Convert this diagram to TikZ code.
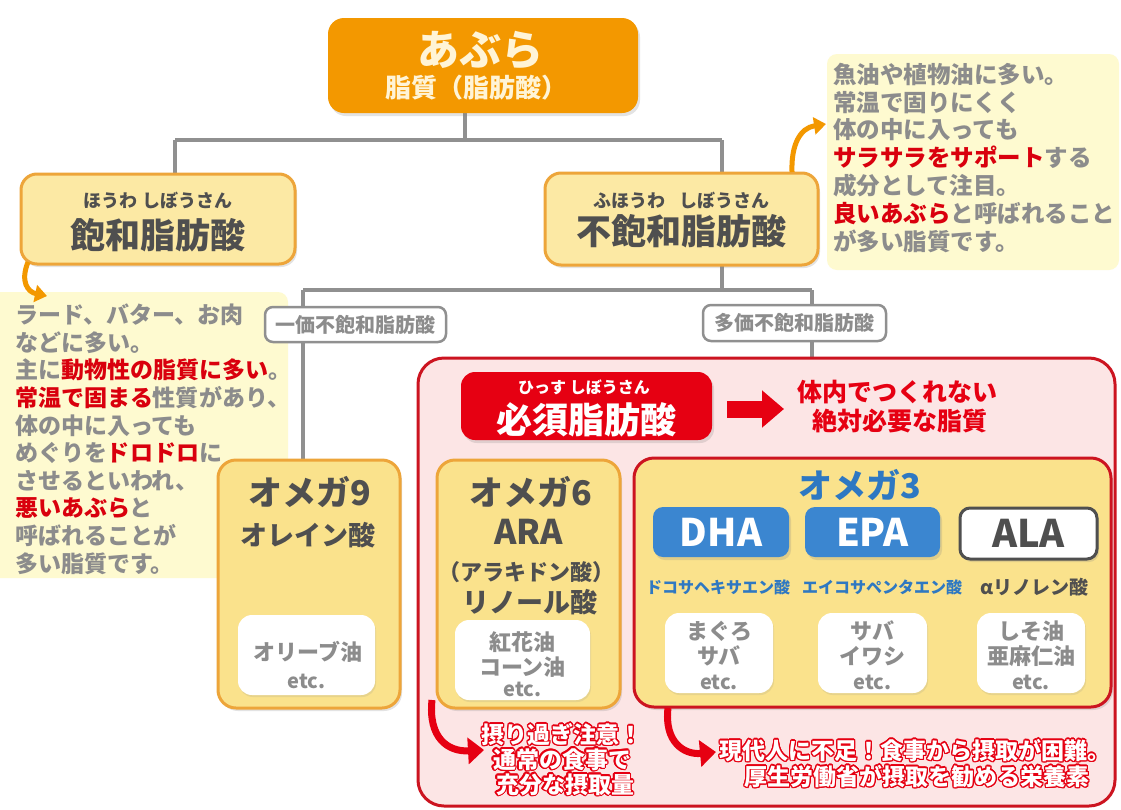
\documentclass[tikz,border=0pt]{standalone}
\usepackage{fontspec}
\setmainfont{Noto Sans CJK JP}
\usepackage[copies]{contour}
\usetikzlibrary{arrows.meta,shadows,backgrounds}
\definecolor{cOrange}{HTML}{F39800}
\definecolor{cOBorder}{HTML}{EDA53A}
\definecolor{cYFill}{HTML}{FCE9A4}
\definecolor{cOmFill}{HTML}{FAE28C}
\definecolor{cNote}{HTML}{FEFAD0}
\definecolor{cGray}{HTML}{8C8C8C}
\definecolor{cDark}{HTML}{4F4F4F}
\definecolor{cLine}{HTML}{909090}
\definecolor{cRed}{HTML}{E60012}
\definecolor{cRedB}{HTML}{CC1420}
\definecolor{cPink}{HTML}{FCE5E5}
\definecolor{cBlue}{HTML}{3B86D0}
\definecolor{cBlueT}{HTML}{2E78C2}
\definecolor{cHi}{HTML}{D9000D}
\definecolor{cCream}{HTML}{FFF4D6}
\newcommand\myfs[1]{\fontsize{#1}{#1}\selectfont}
\newcommand\redtxt[1]{\textcolor{cHi}{#1}}
\contourlength{1.3pt}
\begin{document}
\begin{tikzpicture}[x=1pt,y=-1pt,
  every node/.style={inner sep=0pt,outer sep=0pt},
  conn/.style={draw=cLine,line width=4pt},
  shad/.style={drop shadow={opacity=0.22,shadow xshift=2pt,shadow yshift=-3pt}},
  topbox/.style={fill=cOrange,rounded corners=16pt,shad},
  ybox/.style={draw=cOBorder,line width=3pt,fill=cYFill,rounded corners=16pt,shad},
  ombox/.style={draw=cOBorder,line width=3pt,fill=cOmFill,rounded corners=18pt,shad},
  notebox/.style={fill=cNote,rounded corners=10pt},
  labelbox/.style={draw=cLine,line width=2.5pt,fill=white,rounded corners=8pt},
  whitebox/.style={fill=white,rounded corners=14pt,drop shadow={opacity=0.15,shadow xshift=1pt,shadow yshift=-2pt}},
  bluebox/.style={fill=cBlue,rounded corners=10pt,shad},
  darkt/.style={text=cDark,font=\bfseries\myfs{#1}},
  grayt/.style={text=cGray,font=\bfseries\myfs{#1}},
  olt/.style={text=white,font=\bfseries\myfs{23}},
  oarrow/.style={draw=cOrange,line width=5pt,-{Triangle[length=12pt,width=17pt]}},
  rarrow/.style={draw=cRed,line width=7pt,-{Triangle[length=16pt,width=26pt]}},
]
\useasboundingbox (0,0) rectangle (1121,809);

% notes
\node[notebox,minimum width=300pt,minimum height=286pt] (noteL) at (138,435) {};
\node[notebox,minimum width=292pt,minimum height=216pt] (noteR) at (973,162) {};
\node[grayt=23,anchor=north west,align=left,font=\bfseries\fontsize{23}{27.6}\selectfont] (nLt) at (15,304)
 {ラード、バター、お肉\\
  などに多い。\\
  主に\redtxt{動物性の脂質に多い}。\\
  \redtxt{常温で固まる}性質があり、\\
  体の中に入っても\\
  めぐりを\redtxt{ドロドロ}に\\
  させるといわれ、\\
  \redtxt{悪いあぶら}と\\
  呼ばれることが\\
  多い脂質です。};
\node[grayt=23,anchor=north west,align=left,font=\bfseries\fontsize{23.5}{27.8}\selectfont] (nRt) at (833,63)
 {魚油や植物油に多い。\\
  常温で固りにくく\\
  体の中に入っても\\
  \redtxt{サラサラをサポート}する\\
  成分として注目。\\
  \redtxt{良いあぶら}と呼ばれること\\
  が多い脂質です。};

% top box
\node[topbox,minimum width=310pt,minimum height=95pt] (top) at (483,65.5) {};
\node[text=cCream,font=\bfseries\myfs{42}] (tA) at (480,50) {あぶら};
\node[text=cCream,font=\bfseries\myfs{26}] (tB) at (476,88) {脂質（脂肪酸）};

% level 1 boxes
\node[ybox,minimum width=274pt,minimum height=90pt] (hw) at (158,219) {};
\node[darkt=18] (hwA) at (158,200) {ほうわ しぼうさん};
\node[darkt=35] (hwB) at (158,235) {飽和脂肪酸};
\node[ybox,minimum width=273pt,minimum height=92pt] (fhw) at (681.5,219) {};
\node[darkt=18] (fA) at (681.5,200) {ふほうわ\hspace{14pt}しぼうさん};
\node[darkt=35] (fB) at (681.5,231) {不飽和脂肪酸};

% big red area
\node[draw=cRedB,line width=3pt,fill=cPink,rounded corners=26pt,minimum width=697pt,minimum height=448pt] (big) at (766.5,582) {};

% connectors on background
\begin{scope}[on background layer]
\fill[white] (0,0) rectangle (1121,809);
\coordinate (j0) at (465,140);
\coordinate (jL) at (175,140);
\coordinate (jR) at (722,140);
\draw[conn] (top.south -| j0) -- (j0);
\draw[conn] (jL) -- (jR);
\draw[conn] (jL) -- (hw.north -| jL);
\draw[conn] (jR) -- (fhw.north -| jR);
\coordinate (k0) at (722,290);
\coordinate (kL) at (303,290);
\coordinate (kR) at (812,290);
\draw[conn] (fhw.south -| k0) -- (k0);
\draw[conn] (kL) -- (kR);
\draw[conn] (kL) -- (303,470);
\draw[conn] (kR) -- (big.north -| kR);
\end{scope}

% labels
\node[labelbox,minimum width=181pt,minimum height=35pt] (ikka) at (355.5,324.5) {};
\node[grayt=20] (ikkaT) at (355.5,324.5) {一価不飽和脂肪酸};
\node[labelbox,minimum width=183pt,minimum height=36pt] (taka) at (794.5,323) {};
\node[grayt=20] (takaT) at (794.5,323) {多価不飽和脂肪酸};

% hissu
\node[fill=cRed,rounded corners=14pt,minimum width=251pt,minimum height=68pt,shad] (hissu) at (586.5,406) {};
\node[text=white,font=\bfseries\myfs{16}] (hsA) at (584,387) {ひっす しぼうさん};
\node[text=white,font=\bfseries\myfs{36}] (hsB) at (586.5,420) {必須脂肪酸};
\coordinate (ra1) at (727,409);
\coordinate (ra2) at (784,409);
\draw[cRed,line width=17pt,-{Triangle[length=22pt,width=36pt]}] (ra1) -- (ra2);
\node[text=cRed,font=\bfseries\myfs{25}] (tx1) at (897,392) {体内でつくれない};
\node[text=cRed,font=\bfseries\myfs{25}] (tx2) at (900,421) {絶対必要な脂質};

% omega 9
\node[ombox,minimum width=182pt,minimum height=248pt] (om9) at (309,584) {};
\node[darkt=34] (o9A) at (310,492) {オメガ9};
\node[darkt=27] (o9B) at (308,535) {オレイン酸};
\node[whitebox,minimum width=137pt,minimum height=80pt] (w9) at (306.5,655) {};
\node[grayt=22] (w9A) at (308,652) {オリーブ油};
\node[grayt=20] (w9B) at (306.5,681) {etc.};

% omega 6
\node[ombox,minimum width=183pt,minimum height=248pt] (om6) at (528.5,584) {};
\node[darkt=34] (o6A) at (531,492) {オメガ6};
\node[darkt=34] (o6B) at (528.5,532) {ARA};
\node[darkt=22] (o6C) at (526.5,572) {（アラキドン酸）};
\node[darkt=27] (o6D) at (530,602) {リノール酸};
\node[whitebox,minimum width=135pt,minimum height=80pt] (w6) at (522.5,660) {};
\node[grayt=22] (w6A) at (522.5,642) {紅花油};
\node[grayt=22] (w6B) at (522.5,667) {コーン油};
\node[grayt=20] (w6C) at (522.5,689) {etc.};

% omega 3
\node[draw=cRedB,line width=3pt,fill=cOmFill,rounded corners=20pt,minimum width=477pt,minimum height=249pt,shad] (om3) at (872.5,582.5) {};
\node[text=cBlueT,font=\bfseries\myfs{34}] (o3A) at (860,485) {オメガ3};
\node[bluebox,minimum width=136pt,minimum height=50pt] (dha) at (721,532) {};
\node[text=white,font=\bfseries\myfs{38}] (dhaT) at (721,532) {DHA};
\node[bluebox,minimum width=135pt,minimum height=50pt] (epa) at (872.5,532) {};
\node[text=white,font=\bfseries\myfs{38}] (epaT) at (872.5,532) {EPA};
\node[draw=cDark,line width=3pt,fill=white,rounded corners=10pt,minimum width=137pt,minimum height=51pt,shad] (ala) at (1028.5,533.5) {};
\node[text=cDark,font=\bfseries\myfs{38}] (alaT) at (1028.5,533.5) {ALA};
\node[text=cBlueT,font=\bfseries\myfs{16}] (l1) at (718,587) {ドコサヘキサエン酸};
\node[text=cBlueT,font=\bfseries\myfs{16}] (l2) at (882,587) {エイコサペンタエン酸};
\node[darkt=19] (l3) at (1034,587) {αリノレン酸};
\node[whitebox,minimum width=108pt,minimum height=80pt] (wa) at (719,653) {};
\node[grayt=22] (waA) at (719,631) {まぐろ};
\node[grayt=22] (waB) at (719,656) {サバ};
\node[grayt=20] (waC) at (719,682) {etc.};
\node[whitebox,minimum width=109pt,minimum height=80pt] (wb) at (872.5,653) {};
\node[grayt=22] (wbA) at (872.5,631) {サバ};
\node[grayt=22] (wbB) at (872.5,656) {イワシ};
\node[grayt=20] (wbC) at (872.5,682) {etc.};
\node[whitebox,minimum width=108pt,minimum height=80pt] (wc) at (1031,653) {};
\node[grayt=22] (wcA) at (1031,631) {しそ油};
\node[grayt=22] (wcB) at (1031,656) {亜麻仁油};
\node[grayt=20] (wcC) at (1031,682) {etc.};

% orange arrows
\coordinate (oa1) at (28,262);
\coordinate (oa2) at (47,296);
\draw[oarrow] (oa1) .. controls (20,282) and (28,292) .. (oa2);
\coordinate (ob1) at (792,172);
\coordinate (ob2) at (826,124);
\draw[oarrow] (ob1) .. controls (791,145) and (800,128) .. (ob2);

% red arrows
\coordinate (rc1) at (432,700);
\coordinate (rc2) at (484,750);
\draw[rarrow] (rc1) .. controls (428,738) and (448,752) .. (rc2);
\coordinate (rd1) at (668,708);
\coordinate (rd2) at (716,752);
\draw[rarrow] (rd1) .. controls (664,742) and (684,755) .. (rd2);

% bottom texts (white, red outline)
\node[olt] (b1) at (562,735) {\contour{cRed}{摂り過ぎ注意！}};
\node[olt] (b2) at (562,760) {\contour{cRed}{通常の食事で}};
\node[olt] (b3) at (565,785) {\contour{cRed}{充分な摂取量}};
\node[olt] (b4) at (915,751) {\contour{cRed}{現代人に不足！食事から摂取が困難。}};
\node[olt] (b5) at (917,777) {\contour{cRed}{厚生労働省が摂取を勧める栄養素}};
\end{tikzpicture}
\end{document}
